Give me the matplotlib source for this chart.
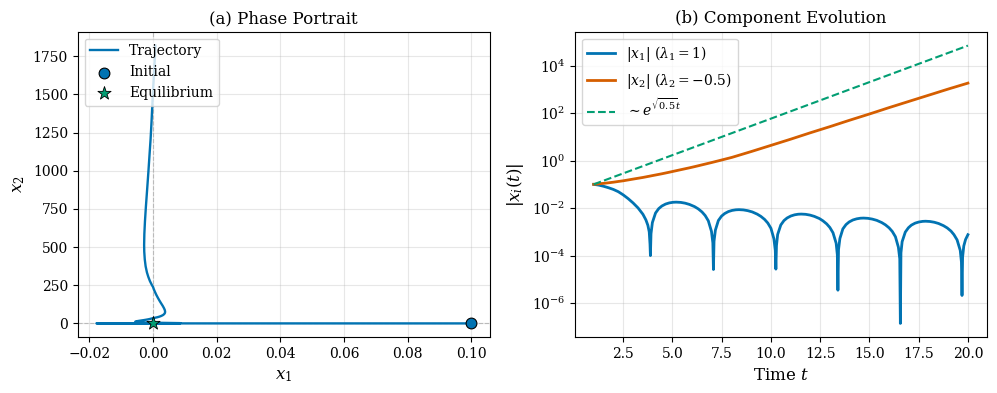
import numpy as np
import matplotlib
matplotlib.use('agg')
import matplotlib.pyplot as plt

plt.rcParams['font.family'] = 'DejaVu Serif'
plt.rcParams['mathtext.fontset'] = 'dejavuserif'

# time samples and the two components (one row per half-oscillation)
t = [1.00, 1.25, 1.50, 1.75, 2.00, 2.25, 2.50, 2.75, 3.00, 3.25, 3.50, 3.65, 3.75, 3.82, 3.86,
     3.88, 3.91, 3.98, 4.14, 4.30, 4.46, 4.65, 4.84, 5.03, 5.19, 5.42, 5.64, 5.86, 6.12, 6.31, 6.50, 6.66, 6.82, 6.98, 7.05,
     7.08, 7.11, 7.18, 7.33, 7.49, 7.65, 7.84, 8.03, 8.22, 8.38, 8.60, 8.82, 9.05, 9.30, 9.49, 9.68, 9.84, 10.00, 10.15, 10.22,
     10.25, 10.28, 10.34, 10.50, 10.66, 10.82, 11.01, 11.20, 11.38, 11.54, 11.76, 11.98, 12.20, 12.46, 12.64, 12.83, 12.99, 13.15, 13.31, 13.37,
     13.40, 13.43, 13.50, 13.65, 13.81, 13.97, 14.16, 14.35, 14.54, 14.70, 14.92, 15.14, 15.37, 15.62, 15.81, 16.00, 16.16, 16.32, 16.47, 16.54,
     16.57, 16.60, 16.66, 16.82, 16.98, 17.13, 17.32, 17.51, 17.70, 17.85, 18.07, 18.29, 18.51, 18.76, 18.95, 19.14, 19.29, 19.45, 19.61, 19.67,
     19.70, 19.73, 19.79, 19.88, 20.00]

x1 = [0.100, 0.093, 0.083, 0.072, 0.061, 0.049, 0.036, 0.025, 0.0165, 0.0102, 0.0055, 0.0032, 0.0019, 0.0010, 0.0003,
      -1.0e-4, -0.000835, -0.00246, -0.00621, -0.00947, -0.01221, -0.01479, -0.01655, -0.01755, -0.0178, -0.01737,
      -0.01614, -0.01428, -0.01155, -0.00926, -0.00687, -0.00486, -0.00292, -0.00105, -0.000345,
      2.6e-5, 0.000403, 0.00119, 0.00300, 0.00458, 0.00590, 0.00715, 0.00800, 0.00848, 0.0086, 0.00839,
      0.00780, 0.00690, 0.00558, 0.00447, 0.00332, 0.00235, 0.00141, 0.000509, 0.000167,
      -2.7e-5, -0.000263, -0.000773, -0.00195, -0.00298, -0.00384, -0.00465, -0.00521, -0.00552, -0.0056, -0.00547,
      -0.00508, -0.00449, -0.00363, -0.00291, -0.00216, -0.00153, -0.000918, -0.000332, -0.000109,
      3.5e-6, 0.000178, 0.000524, 0.00133, 0.00202, 0.00261, 0.00316, 0.00353, 0.00375, 0.0038, 0.00371,
      0.00345, 0.00305, 0.00247, 0.00198, 0.00147, 0.00104, 0.000623, 0.000225, 0.0000737,
      -1.4e-7, -0.000131, -0.000386, -0.000977, -0.00149, -0.00192, -0.00233, -0.00260, -0.00276, -0.0028, -0.00273,
      -0.00254, -0.00225, -0.00182, -0.00146, -0.00108, -0.000764, -0.000459, -0.000166, -0.0000543,
      2.1e-6, 0.0000868, 0.000255, 0.000475, 0.00076]

x2 = [0.100, 0.105, 0.110, 0.116, 0.123, 0.132, 0.141, 0.153, 0.166, 0.180, 0.195, 0.206, 0.214, 0.219, 0.223,
      0.224, 0.227, 0.233, 0.247, 0.262, 0.278, 0.300, 0.324, 0.351, 0.375, 0.413,
      0.452, 0.495, 0.555, 0.605, 0.661, 0.711, 0.766, 0.824, 0.852,
      0.865, 0.877, 0.908, 0.975, 1.054, 1.139, 1.249, 1.372, 1.531, 1.679, 1.905,
      2.163, 2.472, 2.871, 3.217, 3.606, 3.963, 4.365, 4.775, 4.977,
      5.070, 5.164, 5.346, 5.888, 6.481, 7.129, 7.993, 8.995, 10.06, 11.12, 12.74,
      14.62, 16.67, 19.50, 21.70, 24.32, 26.76, 29.51, 32.66, 33.88,
      34.51, 35.16, 36.73, 40.36, 44.55, 49.20, 55.16, 61.80, 69.25, 76.21, 86.97,
      99.5, 114.8, 134.0, 150.9, 169.8, 186.9, 205.6, 224.9, 234.4,
      238.8, 243.2, 252.4, 277.3, 305.3, 334.2, 374.3, 419.8, 469.9, 514.0, 586.4,
      668.3, 763.1, 887.2, 993.1, 1112, 1209, 1327, 1455, 1507,
      1531, 1560, 1614, 1698, 1820]

# reference growth line ~ exp(sqrt(0.5) t), end points
t_ref = [1.0, 20.0]
y_ref = [0.1, 6.9e4]

x0 = [0.1, 0.1]
x_eq = [0.0, 0.0]

blue = '#0173B2'
orange = '#D55E00'
green = '#029E73'

fig = plt.figure(figsize=(9.97, 3.93), dpi=100)
ax1 = fig.add_axes([0.0779, 0.1417, 0.4135, 0.7776])
ax2 = fig.add_axes([0.5767, 0.1417, 0.4129, 0.7776])

# (a) phase portrait
ax1.axhline(0, color='gray', lw=0.8, ls='--', alpha=0.5, zorder=1)
ax1.axvline(0, color='gray', lw=0.8, ls='--', alpha=0.5, zorder=1)
ax1.plot(x1, x2, color=blue, lw=1.7, label='Trajectory', zorder=2)
ax1.scatter(x0[0], x0[1], s=60, color=blue, edgecolor='black', linewidth=0.8, label='Initial', zorder=5)
ax1.scatter(x_eq[0], x_eq[1], s=100, marker='*', color=green, edgecolor='black', linewidth=0.6,
            label='Equilibrium', zorder=5)
ax1.set_xlabel(r'$x_1$', fontsize=12)
ax1.set_ylabel(r'$x_2$', fontsize=12)
ax1.set_title('(a) Phase Portrait', fontsize=12)
ax1.tick_params(labelsize=10)
ax1.grid(True, alpha=0.3)
ax1.legend(loc='upper left', fontsize=10)

# (b) component evolution
ax2.semilogy(t, np.abs(x1), color=blue, lw=2, label=r'$|x_1|$ ($\lambda_1 = 1$)')
ax2.semilogy(t, np.abs(x2), color=orange, lw=2, label=r'$|x_2|$ ($\lambda_2 = -0.5$)')
ax2.semilogy(t_ref, y_ref, color=green, lw=1.5, ls='--', label=r'$\sim e^{\sqrt{0.5}t}$')
ax2.set_xlabel(r'Time $t$', fontsize=12)
ax2.set_ylabel(r'$|x_i(t)|$', fontsize=12)
ax2.set_title('(b) Component Evolution', fontsize=12)
ax2.tick_params(labelsize=10)
ax2.grid(True, alpha=0.3)
ax2.legend(loc='upper left', fontsize=10)

fig.savefig('out.png', dpi=100)
